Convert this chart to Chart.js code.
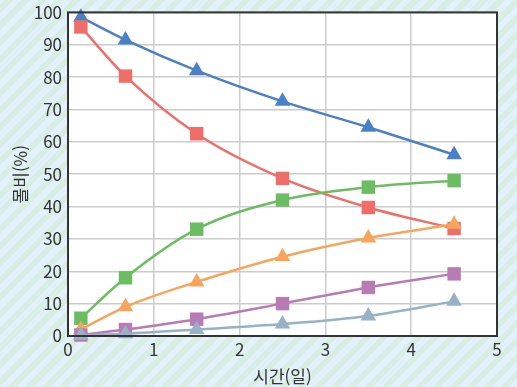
<!DOCTYPE html>
<html lang="ko">
<head>
    <meta charset="UTF-8">
    <title>몰비 변화</title>
    <script src="https://cdn.jsdelivr.net/npm/chart.js"></script>
    <style>
        html, body {
            margin: 0;
            padding: 0;
        }
        body {
            width: 517px;
            height: 387px;
            overflow: hidden;
            background: repeating-linear-gradient(
                -45deg,
                #e2f1fb 0px,
                #e2f1fb 6px,
                #d8eee3 6px,
                #d8eee3 12px
            );
        }
        .chart-box {
            position: relative;
            width: 517px;
            height: 387px;
        }
    </style>
</head>
<body>
    <div class="chart-box">
        <canvas id="molChart"></canvas>
    </div>

    <script>
        // sampling times (days)
        const days = [0.15, 0.67, 1.5, 2.5, 3.5, 4.5];

        const seriesA = [98.5, 91.5, 82, 72.5, 64.5, 56];   // blue triangles
        const seriesB = [95.5, 80.3, 62.5, 48.7, 39.7, 33.2]; // red squares
        const seriesC = [5.5, 18, 33, 42, 46, 48];           // green squares
        const seriesD = [2, 9, 16.7, 24.5, 30.3, 34.5];      // orange triangles
        const seriesE = [0.3, 2, 5.2, 10, 15, 19.2];         // purple squares
        const seriesF = [0.2, 0.7, 2, 3.7, 6.2, 10.7];       // grey triangles

        const xTicks = [0, 1, 2, 3, 4, 5];
        const yTicks = [0, 10, 20, 30, 40, 50, 60, 70, 80, 90, 100];

        const font = "'Noto Sans CJK KR', 'Noto Sans', sans-serif";

        function makeSet(values, color, shape) {
            return {
                data: values.map((v, i) => ({ x: days[i], y: v })),
                borderColor: color,
                backgroundColor: color,
                borderWidth: 2.5,
                pointStyle: shape,
                pointRadius: shape === 'triangle' ? 9 : 9.5,
                pointHoverRadius: 9,
                pointBorderWidth: 0,
                showLine: true,
                cubicInterpolationMode: 'monotone',
                clip: false
            };
        }

        // white plot area and dark frame
        const plotFrame = {
            id: 'plotFrame',
            beforeDraw(chart) {
                const { ctx, chartArea: a } = chart;
                ctx.save();
                ctx.fillStyle = '#ffffff';
                ctx.fillRect(a.left, a.top, a.right - a.left, a.bottom - a.top);
                ctx.restore();
            },
            afterDatasetsDraw(chart) {
                const { ctx, chartArea: a } = chart;
                ctx.save();
                ctx.strokeStyle = '#333333';
                ctx.lineWidth = 2;
                ctx.strokeRect(a.left, a.top, a.right - a.left, a.bottom - a.top);
                ctx.restore();
            }
        };

        const ctx = document.getElementById('molChart').getContext('2d');
        new Chart(ctx, {
            type: 'scatter',
            data: {
                datasets: [
                    makeSet(seriesF, '#97b2c6', 'triangle'),
                    makeSet(seriesE, '#b97bb4', 'rect'),
                    makeSet(seriesD, '#f7a55c', 'triangle'),
                    makeSet(seriesC, '#6cbd62', 'rect'),
                    makeSet(seriesB, '#f06e6a', 'rect'),
                    makeSet(seriesA, '#4a80c6', 'triangle')
                ]
            },
            options: {
                responsive: true,
                maintainAspectRatio: false,
                animation: false,
                events: [],
                layout: {
                    padding: { top: 0, right: 20, bottom: 0, left: 0 }
                },
                plugins: {
                    legend: { display: false },
                    tooltip: { enabled: false }
                },
                scales: {
                    x: {
                        type: 'linear',
                        min: 0,
                        max: 5,
                        afterBuildTicks(axis) {
                            axis.ticks = xTicks.map(v => ({ value: v }));
                        },
                        grid: {
                            color: '#cccccc',
                            lineWidth: 1.5,
                            drawTicks: false
                        },
                        border: { display: false },
                        ticks: {
                            color: '#333333',
                            padding: 3,
                            font: { family: font, size: 17 }
                        },
                        title: {
                            display: true,
                            text: '시간(일)',
                            color: '#333333',
                            padding: { top: 0, bottom: 0 },
                            font: { family: font, size: 17 }
                        },
                        afterFit(axis) {
                            axis.height = 51;
                        }
                    },
                    y: {
                        type: 'linear',
                        min: 0,
                        max: 100,
                        afterBuildTicks(axis) {
                            axis.ticks = yTicks.map(v => ({ value: v }));
                        },
                        grid: {
                            color: '#cccccc',
                            lineWidth: 1.5,
                            drawTicks: false
                        },
                        border: { display: false },
                        ticks: {
                            color: '#333333',
                            padding: 6,
                            font: { family: font, size: 17, lineHeight: 0.75 }
                        },
                        title: {
                            display: true,
                            text: '몰비(%)',
                            color: '#333333',
                            padding: { top: 10, bottom: 0 },
                            font: { family: font, size: 17 }
                        },
                        afterFit(axis) {
                            axis.width = 68;
                        }
                    }
                }
            },
            plugins: [plotFrame]
        });
    </script>
</body>
</html>
